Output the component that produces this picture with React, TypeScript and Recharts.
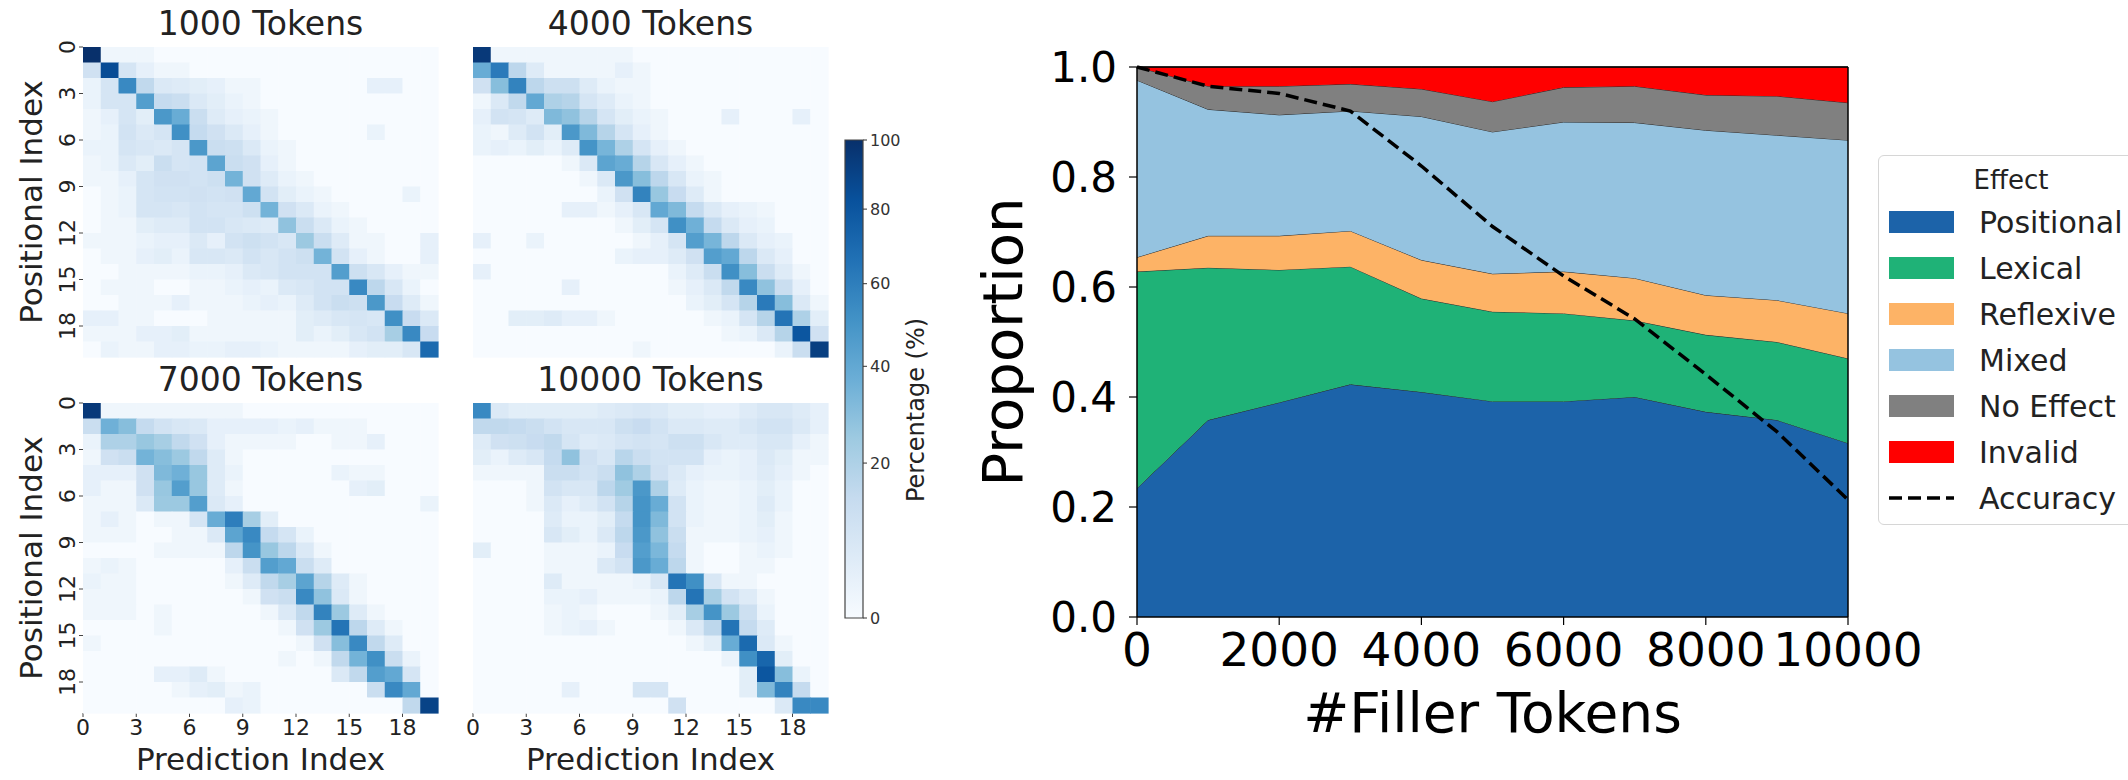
import React, { useMemo } from "react";
import {
  Area,
  Bar,
  ComposedChart,
  Line,
  ReferenceLine,
  Scatter,
  ScatterChart,
  XAxis,
  YAxis,
} from "recharts";

// ---------- heatmaps: % of predictions per (positional index, prediction index) ----------
const hm1000 = [
  [100, 1, 1, 1, 0, 0, 0, 0, 0, 0, 0, 0, 0, 0, 0, 0, 0, 0, 0, 0],
  [10, 85, 8, 3, 1, 1, 0, 0, 0, 0, 0, 0, 0, 0, 0, 0, 0, 0, 0, 0],
  [2, 8, 55, 15, 6, 5, 4, 3, 1, 1, 0, 0, 0, 0, 0, 0, 3, 3, 0, 0],
  [2, 8, 8, 45, 14, 12, 6, 4, 2, 1, 0, 0, 0, 0, 0, 0, 0, 0, 0, 0],
  [1, 3, 8, 4, 48, 38, 12, 5, 3, 2, 1, 0, 0, 0, 0, 0, 0, 0, 0, 0],
  [1, 2, 9, 6, 8, 52, 14, 10, 6, 3, 1, 0, 0, 0, 0, 0, 2, 0, 0, 0],
  [2, 2, 8, 7, 6, 8, 48, 12, 11, 6, 2, 1, 0, 0, 0, 0, 0, 0, 0, 0],
  [1, 2, 6, 4, 12, 8, 9, 42, 12, 10, 3, 1, 0, 0, 0, 0, 0, 0, 0, 0],
  [1, 1, 3, 8, 10, 10, 9, 11, 35, 10, 5, 2, 1, 0, 0, 0, 0, 0, 0, 0],
  [0, 1, 2, 8, 9, 9, 10, 9, 10, 40, 9, 4, 2, 1, 0, 0, 0, 0, 2, 0],
  [0, 1, 2, 8, 8, 7, 9, 8, 8, 11, 35, 10, 6, 2, 1, 0, 0, 0, 0, 0],
  [0, 1, 1, 4, 5, 5, 9, 9, 7, 6, 5, 28, 12, 6, 2, 1, 0, 0, 0, 0],
  [1, 1, 1, 2, 3, 3, 6, 3, 9, 11, 9, 7, 25, 12, 5, 1, 1, 0, 0, 3],
  [0, 1, 1, 3, 4, 2, 7, 7, 6, 9, 7, 9, 11, 35, 9, 3, 1, 0, 0, 3],
  [0, 0, 1, 1, 1, 1, 2, 2, 3, 6, 7, 9, 9, 9, 45, 11, 7, 3, 1, 1],
  [0, 1, 1, 1, 0, 0, 1, 1, 2, 3, 2, 6, 7, 9, 9, 55, 16, 7, 2, 0],
  [0, 0, 1, 1, 1, 3, 1, 1, 1, 2, 3, 2, 5, 9, 12, 11, 48, 13, 5, 1],
  [3, 3, 1, 1, 0, 0, 0, 1, 1, 1, 1, 1, 4, 5, 7, 8, 7, 52, 13, 6],
  [1, 1, 1, 3, 3, 4, 1, 1, 1, 1, 1, 1, 4, 2, 4, 7, 9, 22, 55, 13],
  [0, 2, 1, 1, 3, 3, 2, 2, 3, 3, 2, 1, 1, 1, 1, 3, 4, 4, 7, 70],
];

const hm4000 = [
  [95, 1, 1, 1, 1, 1, 1, 1, 1, 0, 0, 0, 0, 0, 0, 0, 0, 0, 0, 0],
  [38, 62, 16, 5, 1, 1, 1, 1, 3, 1, 0, 0, 0, 0, 0, 0, 0, 0, 0, 0],
  [10, 30, 58, 16, 11, 11, 5, 2, 1, 1, 0, 0, 0, 0, 0, 0, 0, 0, 0, 0],
  [1, 6, 15, 40, 20, 18, 8, 5, 2, 1, 0, 0, 0, 0, 0, 0, 0, 0, 0, 0],
  [3, 9, 8, 5, 32, 28, 18, 8, 4, 2, 1, 0, 0, 0, 3, 0, 0, 0, 3, 0],
  [2, 1, 5, 9, 4, 48, 32, 18, 8, 3, 1, 0, 0, 0, 0, 0, 0, 0, 0, 0],
  [2, 3, 2, 4, 2, 5, 50, 34, 20, 8, 3, 1, 0, 0, 0, 0, 0, 0, 0, 0],
  [0, 0, 0, 0, 0, 1, 6, 42, 38, 18, 7, 3, 1, 0, 0, 0, 0, 0, 0, 0],
  [0, 0, 0, 0, 0, 0, 1, 6, 48, 30, 16, 7, 2, 1, 0, 0, 0, 0, 0, 0],
  [0, 0, 0, 0, 0, 0, 0, 2, 10, 58, 26, 13, 5, 1, 0, 0, 0, 0, 0, 0],
  [0, 0, 0, 0, 0, 3, 3, 1, 3, 7, 40, 32, 14, 6, 3, 2, 1, 0, 0, 0],
  [0, 0, 0, 0, 0, 0, 0, 0, 1, 4, 8, 52, 36, 14, 6, 3, 2, 0, 0, 0],
  [3, 0, 0, 2, 0, 0, 0, 0, 0, 1, 3, 8, 45, 34, 16, 6, 3, 2, 0, 0],
  [0, 0, 0, 0, 0, 0, 0, 0, 2, 3, 3, 5, 10, 45, 40, 16, 6, 3, 0, 0],
  [3, 0, 0, 0, 0, 0, 0, 0, 0, 0, 0, 2, 5, 12, 52, 30, 12, 5, 1, 0],
  [0, 0, 0, 0, 0, 3, 0, 0, 0, 0, 0, 1, 3, 6, 15, 55, 28, 12, 3, 0],
  [0, 0, 0, 0, 0, 0, 0, 0, 0, 0, 0, 0, 2, 4, 8, 18, 62, 30, 6, 1],
  [0, 0, 4, 4, 5, 3, 3, 1, 0, 0, 0, 0, 0, 1, 2, 8, 18, 65, 20, 4],
  [0, 0, 0, 0, 0, 0, 0, 0, 0, 0, 0, 0, 0, 0, 1, 2, 6, 18, 80, 10],
  [0, 0, 0, 0, 0, 0, 0, 0, 0, 1, 0, 0, 0, 0, 0, 0, 0, 2, 12, 92],
];

const hm7000 = [
  [95, 1, 1, 1, 1, 1, 1, 1, 1, 0, 0, 0, 0, 0, 0, 0, 0, 0, 0, 0],
  [12, 36, 30, 14, 9, 7, 6, 3, 3, 3, 3, 2, 3, 1, 1, 1, 0, 0, 0, 0],
  [2, 20, 20, 26, 22, 15, 10, 3, 1, 1, 1, 1, 0, 0, 1, 1, 3, 0, 0, 0],
  [1, 10, 12, 35, 30, 25, 15, 5, 1, 0, 0, 0, 0, 0, 0, 0, 0, 0, 0, 0],
  [3, 3, 3, 10, 32, 36, 26, 5, 2, 0, 0, 0, 0, 0, 2, 1, 1, 0, 0, 0],
  [3, 1, 1, 10, 26, 45, 26, 5, 1, 0, 0, 0, 0, 0, 0, 3, 4, 0, 0, 0],
  [1, 1, 1, 6, 25, 25, 45, 6, 3, 0, 0, 0, 0, 0, 0, 0, 0, 0, 0, 2],
  [1, 3, 1, 0, 1, 1, 8, 38, 60, 22, 4, 0, 0, 0, 0, 0, 0, 0, 0, 0],
  [1, 1, 1, 0, 0, 1, 1, 6, 42, 55, 14, 8, 2, 0, 0, 0, 0, 0, 0, 0],
  [0, 0, 0, 0, 1, 1, 1, 1, 16, 50, 26, 16, 6, 1, 0, 0, 0, 0, 0, 0],
  [1, 2, 1, 0, 0, 0, 0, 0, 3, 12, 45, 40, 12, 5, 0, 0, 0, 0, 0, 0],
  [2, 1, 1, 0, 0, 0, 0, 0, 1, 5, 15, 22, 42, 18, 5, 1, 0, 0, 0, 0],
  [1, 1, 1, 0, 0, 0, 0, 0, 0, 1, 10, 12, 55, 28, 6, 1, 0, 0, 0, 0],
  [1, 1, 1, 0, 1, 0, 0, 0, 0, 0, 1, 6, 15, 58, 25, 5, 1, 0, 0, 0],
  [0, 0, 0, 0, 1, 0, 0, 0, 0, 0, 0, 1, 10, 25, 65, 16, 5, 1, 0, 0],
  [1, 0, 0, 0, 0, 0, 0, 0, 0, 0, 0, 0, 1, 10, 30, 55, 15, 5, 0, 0],
  [0, 0, 0, 0, 0, 0, 0, 0, 0, 0, 0, 1, 0, 1, 15, 35, 52, 12, 2, 0],
  [0, 0, 0, 0, 3, 3, 5, 1, 0, 0, 0, 0, 0, 0, 6, 15, 45, 40, 8, 0],
  [0, 0, 0, 0, 0, 1, 3, 4, 1, 2, 0, 0, 0, 0, 0, 0, 12, 55, 40, 0],
  [0, 0, 0, 0, 0, 0, 0, 0, 3, 2, 0, 0, 0, 0, 0, 0, 0, 0, 15, 90],
];

const hm10000 = [
  [55, 6, 4, 4, 4, 4, 4, 5, 6, 7, 6, 4, 4, 3, 3, 5, 7, 7, 5, 3],
  [15, 15, 14, 12, 9, 7, 7, 7, 11, 13, 9, 6, 6, 5, 5, 7, 9, 9, 6, 3],
  [5, 10, 11, 13, 15, 8, 5, 6, 8, 9, 8, 11, 11, 7, 5, 5, 7, 7, 3, 1],
  [4, 2, 5, 7, 14, 28, 10, 7, 17, 12, 9, 9, 9, 3, 2, 3, 6, 4, 1, 1],
  [1, 1, 1, 1, 12, 12, 9, 12, 28, 20, 10, 6, 3, 2, 2, 3, 5, 3, 1, 0],
  [0, 0, 0, 1, 9, 7, 7, 16, 24, 48, 20, 5, 2, 1, 1, 2, 4, 2, 0, 0],
  [0, 0, 0, 1, 6, 3, 5, 9, 18, 50, 38, 9, 2, 1, 1, 2, 5, 2, 0, 0],
  [0, 0, 0, 0, 5, 2, 2, 4, 14, 50, 32, 9, 2, 1, 1, 2, 4, 1, 0, 0],
  [0, 0, 0, 0, 7, 4, 2, 6, 16, 48, 28, 12, 1, 1, 1, 2, 3, 1, 0, 0],
  [4, 0, 0, 0, 1, 1, 1, 2, 13, 45, 33, 14, 1, 0, 0, 1, 2, 1, 0, 0],
  [0, 0, 0, 0, 1, 1, 1, 6, 9, 48, 38, 16, 1, 0, 0, 1, 1, 0, 0, 0],
  [0, 0, 0, 0, 5, 1, 1, 1, 1, 2, 7, 65, 52, 7, 1, 1, 0, 0, 0, 0],
  [0, 0, 0, 0, 2, 2, 3, 1, 1, 1, 2, 16, 65, 22, 9, 5, 1, 0, 0, 0],
  [0, 0, 0, 0, 1, 2, 1, 0, 0, 0, 1, 4, 22, 50, 25, 11, 2, 0, 0, 0],
  [0, 0, 0, 0, 1, 2, 3, 1, 0, 0, 0, 1, 6, 16, 65, 14, 5, 0, 0, 0],
  [0, 0, 0, 0, 0, 0, 0, 0, 0, 0, 0, 0, 1, 4, 38, 70, 6, 1, 0, 0],
  [0, 0, 0, 0, 0, 0, 0, 0, 0, 0, 0, 0, 0, 0, 2, 52, 72, 4, 0, 0],
  [0, 0, 0, 0, 0, 0, 0, 0, 0, 0, 0, 0, 0, 0, 0, 4, 80, 30, 2, 0],
  [0, 0, 0, 0, 0, 3, 0, 0, 0, 8, 8, 0, 0, 0, 0, 4, 32, 58, 14, 0],
  [0, 0, 0, 0, 0, 0, 0, 0, 0, 0, 0, 10, 0, 0, 0, 0, 0, 6, 55, 55],
];

const indexTicks = [0, 3, 6, 9, 12, 15, 18];
const colorbarTicks = [0, 20, 40, 60, 80, 100];

// ---------- stacked area: proportion of effects vs #filler tokens ----------
const fillerTokens = [0, 1000, 2000, 3000, 4000, 5000, 6000, 7000, 8000, 9000, 10000];
const positional = [0.234, 0.358, 0.39, 0.423, 0.409, 0.392, 0.392, 0.4, 0.373, 0.358, 0.316];
const lexical = [0.394, 0.277, 0.241, 0.214, 0.17, 0.163, 0.16, 0.139, 0.14, 0.142, 0.154];
const reflexive = [0.026, 0.058, 0.062, 0.065, 0.07, 0.069, 0.076, 0.077, 0.072, 0.076, 0.082];
const mixed = [0.322, 0.23, 0.22, 0.218, 0.261, 0.258, 0.272, 0.283, 0.3, 0.3, 0.315];
const noEffect = [0.024, 0.042, 0.052, 0.049, 0.05, 0.055, 0.063, 0.066, 0.064, 0.071, 0.068];
const invalid = [0, 0.035, 0.035, 0.031, 0.04, 0.063, 0.037, 0.035, 0.051, 0.053, 0.065];
const accuracy = [1.0, 0.965, 0.952, 0.92, 0.82, 0.71, 0.62, 0.542, 0.441, 0.337, 0.213];
const proportionTicks = [0, 0.2, 0.4, 0.6, 0.8, 1.0];
const tokenTicks = [0, 2000, 4000, 6000, 8000, 10000];

const effects = [
  { key: "positional", name: "Positional", color: "#1c63a9" },
  { key: "lexical", name: "Lexical", color: "#1fb277" },
  { key: "reflexive", name: "Reflexive", color: "#fdb366" },
  { key: "mixed", name: "Mixed", color: "#95c3e0" },
  { key: "noEffect", name: "No Effect", color: "#808080" },
  { key: "invalid", name: "Invalid", color: "#ff0000" },
];

const FONT = '"DejaVu Sans", sans-serif';
const GAMMA = 0.7; // colour norm of the heatmaps
const BLUES = ["#f7fbff", "#deebf7", "#c6dbef", "#9ecae1", "#6baed6", "#4292c6", "#2171b5", "#08519c", "#08306b"];

function hexToRgb(h: string) {
  return [1, 3, 5].map((i) => parseInt(h.slice(i, i + 2), 16));
}

function blues(t: number) {
  const s = Math.min(1, Math.max(0, t)) * 8;
  const i = Math.min(7, Math.floor(s));
  const f = s - i;
  const a = hexToRgb(BLUES[i]);
  const b = hexToRgb(BLUES[i + 1]);
  const c = a.map((v, k) => Math.round(v + (b[k] - v) * f));
  return `rgb(${c[0]},${c[1]},${c[2]})`;
}

const pctToNorm = (p: number) => Math.pow(p / 100, GAMMA);
const pctColor = (p: number) => blues(pctToNorm(p));

// heatmap plot-area size
const HM_W = 355;
const HM_H = 310;
const CELL_W = HM_W / 20;
const CELL_H = HM_H / 20;

function HeatCell(props: any) {
  const { cx, cy, payload } = props;
  if (cx == null || cy == null) return null;
  return (
    <rect
      x={cx - CELL_W / 2}
      y={cy - CELL_H / 2}
      width={CELL_W + 0.6}
      height={CELL_H + 0.6}
      fill={pctColor(payload.v)}
    />
  );
}

function RotatedTick(props: any) {
  const { x, y, payload } = props;
  return (
    <text x={x} y={y} transform={`rotate(-90 ${x} ${y})`} textAnchor="middle" fontSize={22} fill="#222">
      {payload.value}
    </text>
  );
}

function Heatmap({ title, matrix, left, top, showX, showY }: any) {
  const cells = useMemo(
    () => matrix.flatMap((row: number[], r: number) => row.map((v, c) => ({ col: c + 0.5, row: r + 0.5, v }))),
    [matrix]
  );
  return (
    <div style={{ position: "absolute", left: left - 90, top: top - 50, width: 460, height: 430 }}>
      <div
        style={{
          position: "absolute",
          left: 90,
          width: HM_W,
          top: 10,
          textAlign: "center",
          fontSize: 33,
          lineHeight: 1,
          color: "#222",
          whiteSpace: "nowrap",
        }}
      >
        {title}
      </div>
      <ScatterChart width={460} height={430} margin={{ top: 50, right: 15, bottom: 8, left: 30 }}>
        <XAxis
          type="number"
          dataKey="col"
          domain={[0, 20]}
          ticks={indexTicks}
          interval={0}
          height={62}
          axisLine={false}
          tickLine={showX ? { stroke: "#444" } : false}
          tickSize={4}
          tickMargin={2}
          tick={showX ? { fontSize: 22, fill: "#222" } : false}
          label={
            showX
              ? {
                  value: "Prediction Index",
                  position: { x: HM_W / 2, y: 57 },
                  style: { textAnchor: "middle", fontSize: 31, fill: "#222" },
                }
              : undefined
          }
        />
        <YAxis
          type="number"
          dataKey="row"
          domain={[0, 20]}
          reversed
          ticks={indexTicks}
          interval={0}
          width={60}
          axisLine={false}
          tickLine={showY ? { stroke: "#444" } : false}
          tickSize={4}
          tickMargin={4}
          tick={showY ? <RotatedTick /> : false}
          label={
            showY
              ? {
                  value: "Positional Index",
                  angle: -90,
                  position: { x: 19, y: HM_H / 2 },
                  style: { textAnchor: "middle", fontSize: 31, fill: "#222" },
                }
              : undefined
          }
        />
        <Scatter data={cells} shape={<HeatCell />} isAnimationActive={false} />
      </ScatterChart>
    </div>
  );
}

function Colorbar() {
  const data = [{ name: "cb", full: 1 }];
  return (
    <div style={{ position: "absolute", left: 835, top: 120 }}>
      <ComposedChart width={120} height={520} data={data} margin={{ top: 20, right: 22, bottom: 22, left: 10 }} barCategoryGap={0}>
        <defs>
          <linearGradient id="cbGrad" x1="0" y1="1" x2="0" y2="0">
            {BLUES.map((c, i) => (
              <stop key={c} offset={`${(i / 8) * 100}%`} stopColor={c} />
            ))}
          </linearGradient>
        </defs>
        <XAxis dataKey="name" hide />
        <YAxis
          orientation="right"
          type="number"
          domain={[0, 1]}
          ticks={colorbarTicks.map(pctToNorm)}
          tickFormatter={(v: number) => String(Math.round(Math.pow(v, 1 / GAMMA) * 100))}
          interval={0}
          width={70}
          axisLine={false}
          tickLine={{ stroke: "#333" }}
          tickSize={4}
          tickMargin={3}
          tick={{ fontSize: 16, fill: "#333" }}
          label={{
            value: "Percentage (%)",
            angle: -90,
            position: { x: 61, y: 270 },
            style: { textAnchor: "middle", fontSize: 24, fill: "#222" },
          }}
        />
        <Bar dataKey="full" fill="url(#cbGrad)" stroke="#444" strokeWidth={1.2} isAnimationActive={false} />
      </ComposedChart>
    </div>
  );
}

function EffectLegend() {
  const rowY = (i: number) => 66 + i * 46;
  return (
    <div
      style={{
        position: "absolute",
        left: 1878,
        top: 155,
        width: 264,
        height: 370,
        border: "1.5px solid #d6d6d6",
        borderRadius: 6,
        background: "#fff",
        boxSizing: "border-box",
      }}
    >
      <svg width={262} height={367} style={{ position: "absolute", left: 0, top: 0 }}>
        <text x={132} y={33} textAnchor="middle" fontSize={26} fill="#222">
          Effect
        </text>
        {effects.map((e, i) => (
          <g key={e.key}>
            <rect x={10} y={rowY(i) - 11} width={65} height={22} fill={e.color} />
            <text x={100} y={rowY(i) + 11} fontSize={30} fill="#222">
              {e.name}
            </text>
          </g>
        ))}
        <line x1={10} x2={75} y1={rowY(6)} y2={rowY(6)} stroke="#000" strokeWidth={3.5} strokeDasharray="13 6" />
        <text x={100} y={rowY(6) + 11} fontSize={30} fill="#222">
          Accuracy
        </text>
      </svg>
    </div>
  );
}

function EffectChart() {
  const data = useMemo(
    () =>
      fillerTokens.map((x, i) => ({
        x,
        positional: positional[i],
        lexical: lexical[i],
        reflexive: reflexive[i],
        mixed: mixed[i],
        noEffect: noEffect[i],
        invalid: invalid[i],
        accuracy: accuracy[i],
      })),
    []
  );
  return (
    <div style={{ position: "absolute", left: 940, top: 0 }}>
      <ComposedChart width={1188} height={780} data={data} margin={{ top: 67, right: 280, bottom: 33, left: 47 }}>
        <XAxis
          type="number"
          dataKey="x"
          domain={[0, 10000]}
          ticks={tokenTicks}
          interval={0}
          height={130}
          axisLine={{ stroke: "#000", strokeWidth: 1.5 }}
          tickLine={{ stroke: "#000", strokeWidth: 1.2 }}
          tickSize={8}
          tickMargin={8}
          tick={{ fontSize: 47, fill: "#000" }}
          label={{
            value: "#Filler Tokens",
            position: { x: 355.5, y: 115 },
            style: { textAnchor: "middle", fontSize: 55, fill: "#000" },
          }}
        />
        <YAxis
          type="number"
          domain={[0, 1]}
          ticks={proportionTicks}
          interval={0}
          width={150}
          tickFormatter={(v: number) => v.toFixed(1)}
          axisLine={{ stroke: "#000", strokeWidth: 1.5 }}
          tickLine={{ stroke: "#000", strokeWidth: 1.2 }}
          tickSize={8}
          tickMargin={12}
          tick={{ fontSize: 42, fill: "#000" }}
          label={{
            value: "Proportion",
            angle: -90,
            position: { x: 35, y: 275 },
            style: { textAnchor: "middle", fontSize: 56, fill: "#000" },
          }}
        />
        {effects.map((e) => (
          <Area
            key={e.key}
            type="linear"
            dataKey={e.key}
            name={e.name}
            stackId="effects"
            fill={e.color}
            fillOpacity={1}
            stroke="#2a2a2a"
            strokeWidth={1}
            dot={false}
            activeDot={false}
            isAnimationActive={false}
          />
        ))}
        <Line
          type="linear"
          dataKey="accuracy"
          name="Accuracy"
          stroke="#000"
          strokeWidth={3.5}
          strokeDasharray="13 6"
          dot={false}
          activeDot={false}
          isAnimationActive={false}
        />
        <ReferenceLine y={1} stroke="#000" strokeWidth={1.5} />
        <ReferenceLine x={10000} stroke="#000" strokeWidth={1.5} />
      </ComposedChart>
    </div>
  );
}

export default function App() {
  return (
    <div
      style={{
        position: "absolute",
        left: 0,
        top: 0,
        width: 2128,
        height: 780,
        background: "#fff",
        fontFamily: FONT,
        overflow: "hidden",
      }}
    >
      <Heatmap title="1000 Tokens" matrix={hm1000} left={83} top={47} showX={false} showY />
      <Heatmap title="4000 Tokens" matrix={hm4000} left={473} top={47} showX={false} showY={false} />
      <Heatmap title="7000 Tokens" matrix={hm7000} left={83} top={403} showX showY />
      <Heatmap title="10000 Tokens" matrix={hm10000} left={473} top={403} showX showY={false} />
      <Colorbar />
      <EffectChart />
      <EffectLegend />
    </div>
  );
}
